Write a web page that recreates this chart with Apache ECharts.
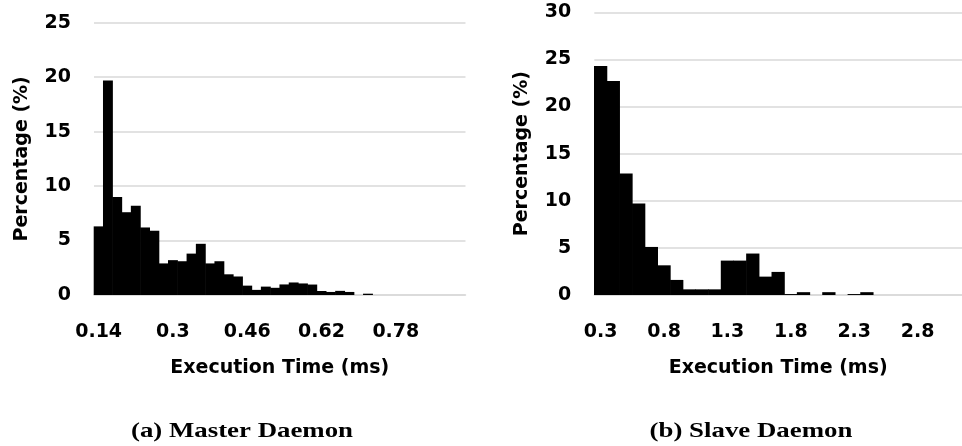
<!DOCTYPE html>
<html>
<head>
<meta charset="utf-8">
<script src="https://cdn.jsdelivr.net/npm/echarts@6/dist/echarts.min.js"></script>
<style>
  html, body { margin: 0; padding: 0; background: #fff; }
  #chart { width: 962px; height: 446px; }
</style>
</head>
<body>
<div id="chart"></div>
<script>
// Histogram bins (ms) and share of executions (%) for each daemon
const masterBins = ['0.14','0.16','0.18','0.2','0.22','0.24','0.26','0.28','0.3','0.32',
  '0.34','0.36','0.38','0.4','0.42','0.44','0.46','0.48','0.5','0.52',
  '0.54','0.56','0.58','0.6','0.62','0.64','0.66','0.68','0.7','0.72',
  '0.74','0.76','0.78','0.8','0.82','0.84','0.86','0.88','0.9','0.92'];
const masterPct = [6.3, 19.7, 9.0, 7.6, 8.2, 6.2, 5.9, 2.9, 3.2, 3.1,
  3.8, 4.7, 2.9, 3.1, 1.9, 1.7, 0.86, 0.47, 0.77, 0.66,
  0.97, 1.15, 1.06, 0.96, 0.37, 0.28, 0.38, 0.28, 0, 0.12,
  0, 0, 0, 0, 0, 0, 0, 0, 0, 0];

const slaveBins = ['0.3','0.4','0.5','0.6','0.7','0.8','0.9','1','1.1','1.2',
  '1.3','1.4','1.5','1.6','1.7','1.8','1.9','2','2.1','2.2',
  '2.3','2.4','2.5','2.6','2.7','2.8','2.9','3','3.1'];
const slavePct = [24.3, 22.7, 12.9, 9.7, 5.1, 3.15, 1.6, 0.6, 0.6, 0.6,
  3.65, 3.65, 4.4, 1.95, 2.45, 0.1, 0.3, 0, 0.3, 0,
  0.1, 0.3, 0, 0, 0, 0, 0, 0, 0];

const masterYMax = 25;
const slaveYMax = 30;
const yStep = 5;

const panelTitles = ['(a) Master Daemon', '(b) Slave Daemon'];
const xName = 'Execution Time (ms)';
const yName = 'Percentage (%)';

const sansBold = { fontFamily: 'DejaVu Sans', fontWeight: 'bold', color: '#000', fontSize: 19 };
const gridColor = '#d9d9d9';

function xAxisFor(gridIndex, bins, every) {
  return {
    type: 'category', gridIndex, data: bins,
    name: xName, nameLocation: 'middle', nameGap: 64,
    nameTextStyle: Object.assign({}, sansBold),
    axisLine: { show: true, lineStyle: { color: gridColor, width: 1.5 } },
    axisTick: { show: false },
    axisLabel: Object.assign({ interval: every - 1, margin: 28 }, sansBold),
    splitLine: { show: false }
  };
}

function yAxisFor(gridIndex, max, gap) {
  return {
    type: 'value', gridIndex, min: 0, max, interval: yStep,
    name: yName, nameLocation: 'middle', nameGap: gap, nameRotate: 90,
    nameTextStyle: Object.assign({}, sansBold),
    axisLine: { show: false },
    axisTick: { show: false },
    axisLabel: Object.assign({ margin: 23 }, sansBold),
    splitLine: { show: true, lineStyle: { color: gridColor, width: 1.5 } }
  };
}

// Histogram columns: each bin fills its whole category band (plus a hair of
// overlap so neighbouring columns merge into one solid silhouette)
function renderBin(params, api) {
  const v = api.value(1);
  if (!(v > 0)) return null;
  const top = api.coord([api.value(0), v]);
  const base = api.coord([api.value(0), 0]);
  const band = api.size([1, 0])[0];
  return {
    type: 'rect',
    shape: { x: top[0] - band / 2 - 0.3, y: top[1], width: band + 0.6, height: base[1] - top[1] },
    style: { fill: '#000' }
  };
}

function barSeries(idx, bins, values) {
  return {
    type: 'custom', xAxisIndex: idx, yAxisIndex: idx,
    data: values.map((v, i) => [bins[i], v]),
    encode: { x: 0, y: 1 },
    renderItem: renderBin,
    silent: true, animation: false
  };
}

const chart = echarts.init(document.getElementById('chart'), null, { renderer: 'canvas' });
chart.setOption({
  backgroundColor: '#fff',
  animation: false,
  grid: [
    { left: 94, top: 22.7, width: 371.5, height: 272.3 },
    { left: 594.3, top: 12.3, width: 368.3, height: 282.7 }
  ],
  xAxis: [xAxisFor(0, masterBins, 8), xAxisFor(1, slaveBins, 5)],
  yAxis: [yAxisFor(0, masterYMax, 62), yAxisFor(1, slaveYMax, 63)],
  series: [barSeries(0, masterBins, masterPct), barSeries(1, slaveBins, slavePct)],
  graphic: [
    { type: 'text', x: 242, y: 431, scaleX: 1.22,
      style: { text: panelTitles[0], font: 'bold 22px "Liberation Serif"', fill: '#000',
               textAlign: 'center', textVerticalAlign: 'middle' } },
    { type: 'text', x: 751, y: 431, scaleX: 1.22,
      style: { text: panelTitles[1], font: 'bold 22px "Liberation Serif"', fill: '#000',
               textAlign: 'center', textVerticalAlign: 'middle' } }
  ]
});
</script>
</body>
</html>
